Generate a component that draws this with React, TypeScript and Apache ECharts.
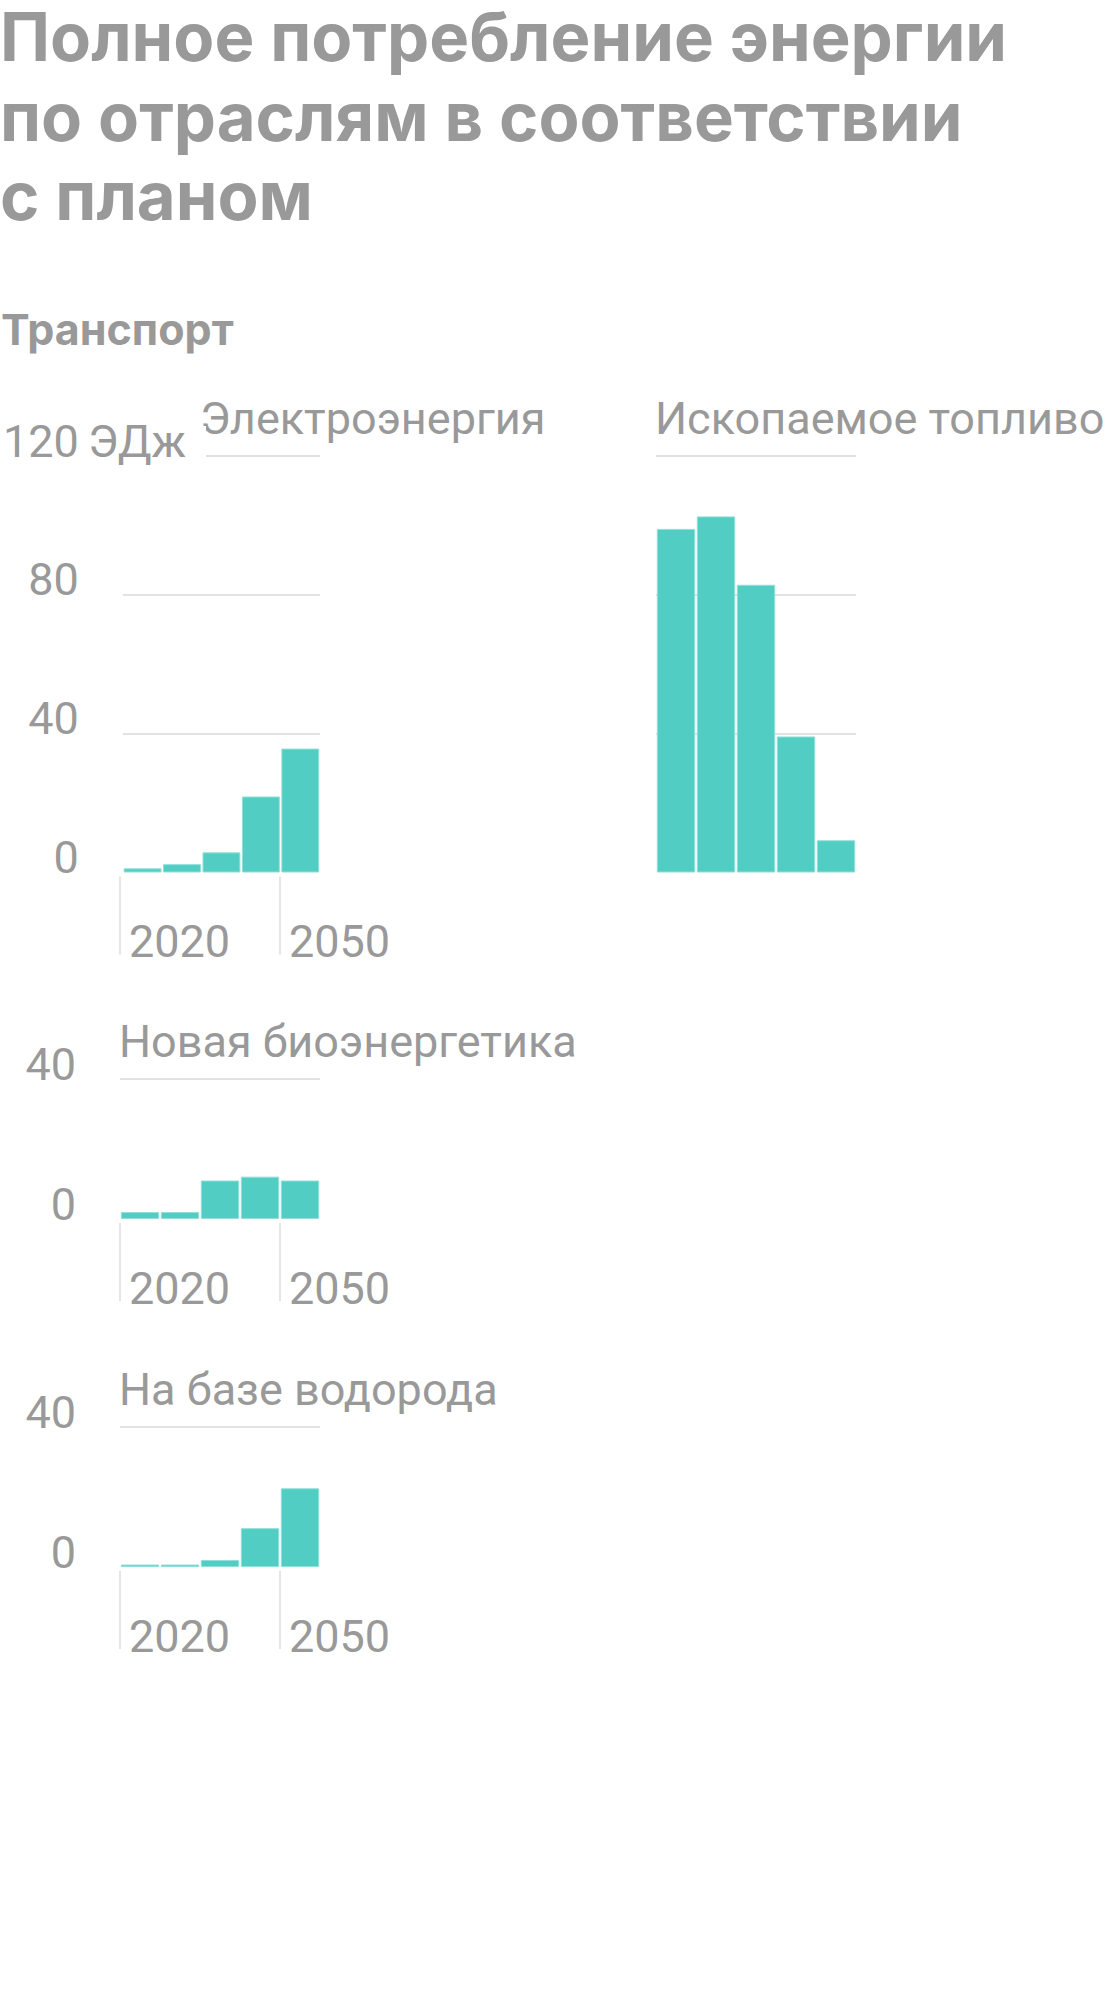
import React, { useEffect, useRef } from 'react';
import * as echarts from 'echarts';

// ---- data ----
const PERIODS = ['P1', 'P2', 'P3', 'P4', 'P5'];
const X_TICKS = [2020, 2050];
const ELECTRICITY = [1.2, 2.4, 5.8, 21.9, 35.7];
const FOSSIL = [99, 102.6, 82.9, 39.2, 9.3];
const BIOENERGY = [2, 2, 11, 12.1, 11];
const HYDROGEN = [0.7, 0.7, 2, 11.1, 22.5];
const Y_MAX_BIG = 120;
const Y_MAX_SMALL = 40;
const Y_STEP = 40;
const TITLE_LINES = ['Полное потребление энергии', 'по отраслям в соответствии', 'с планом'];
const SECTION = 'Транспорт';
const PANEL_NAMES = ['Электроэнергия', 'Ископаемое топливо', 'Новая биоэнергетика', 'На базе водорода'];
const UNIT = 'ЭДж';

const LABEL_FONT = 'Roboto, "Noto Sans", sans-serif';
const HEAD_FONT = 'Inter, Roboto, "Noto Sans", sans-serif';
const GREY = '#999999';
const GRID_LINE = '#e2e2e2';
const BAR = '#52cdc4';
const BAR_BORDER = '#8fe0d9';
const LABEL_SIZE = 45;

type Panel = {
  name: string;
  data: number[];
  left: number;
  top: number;
  height: number;
  max: number;
  yLabels: boolean;
  xTicks: boolean;
  titleLeft: number;
};

const PANELS: Panel[] = [
  { name: PANEL_NAMES[0], data: ELECTRICITY, left: 120, top: 456, height: 416.5, max: Y_MAX_BIG, yLabels: true, xTicks: true, titleLeft: 200 },
  { name: PANEL_NAMES[1], data: FOSSIL, left: 656, top: 456, height: 416.5, max: Y_MAX_BIG, yLabels: false, xTicks: false, titleLeft: 655 },
  { name: PANEL_NAMES[2], data: BIOENERGY, left: 120, top: 1079, height: 140, max: Y_MAX_SMALL, yLabels: true, xTicks: true, titleLeft: 119 },
  { name: PANEL_NAMES[3], data: HYDROGEN, left: 120, top: 1427, height: 140, max: Y_MAX_SMALL, yLabels: true, xTicks: true, titleLeft: 119 },
];

export default function App() {
  const ref = useRef<HTMLDivElement>(null);

  useEffect(() => {
    document.body.style.margin = '0';
    if (!ref.current) return;
    const chart = echarts.init(ref.current, undefined, { renderer: 'svg' });

    const grid: any[] = [];
    const xAxis: any[] = [];
    const yAxis: any[] = [];
    const series: any[] = [];
    const titles: any[] = [];

    TITLE_LINES.forEach((line, i) => {
      titles.push({
        text: line,
        left: 0,
        top: 3.4 + i * 79.5,
        padding: 0,
        textStyle: { fontSize: 67, fontWeight: 'bold', color: GREY, lineHeight: 67, fontFamily: HEAD_FONT },
      });
    });
    titles.push({
      text: SECTION,
      left: 1,
      top: 307,
      padding: 0,
      textStyle: { fontSize: 43, fontWeight: 'bold', color: GREY, lineHeight: 43, fontFamily: HEAD_FONT },
    });

    PANELS.forEach((p) => {
      const gi = grid.length;
      grid.push({ left: p.left, top: p.top, width: 200, height: p.height, containLabel: false });
      xAxis.push({ gridIndex: gi, type: 'category', data: PERIODS, show: false });
      yAxis.push({
        gridIndex: gi,
        type: 'value',
        min: 0,
        max: p.max,
        interval: Y_STEP,
        axisLine: { show: false },
        axisTick: { show: false },
        splitLine: { show: true, showMinLine: false, lineStyle: { color: GRID_LINE, width: 2 } },
        axisLabel: {
          show: p.yLabels,
          margin: 44,
          fontSize: LABEL_SIZE,
          color: GREY,
          fontFamily: LABEL_FONT,
          align: 'right',
          verticalAlign: 'bottom',
          lineHeight: 30,
        },
      });
      series.push({
        type: 'bar',
        name: p.name,
        xAxisIndex: gi,
        yAxisIndex: gi,
        data: p.data,
        barCategoryGap: '4%',
        itemStyle: { color: BAR, borderColor: BAR_BORDER, borderWidth: 1 },
      });
      titles.push({
        text: p.name,
        left: p.titleLeft,
        top: p.top - 60.3,
        padding: 0,
        textStyle: { fontSize: LABEL_SIZE, fontWeight: 'normal', color: GREY, lineHeight: LABEL_SIZE, fontFamily: LABEL_FONT },
      });

      if (p.xTicks) {
        const ti = grid.length;
        const zero = p.top + p.height;
        grid.push({ left: p.left, top: zero + 3, width: 160, height: 1 });
        xAxis.push({
          gridIndex: ti,
          type: 'value',
          min: X_TICKS[0],
          max: X_TICKS[1],
          interval: X_TICKS[1] - X_TICKS[0],
          axisLine: { show: false },
          splitLine: { show: false },
          axisTick: { show: true, length: 78, lineStyle: { color: '#dddddd', width: 1.5 } },
          axisLabel: {
            formatter: (v: number) => String(v),
            align: 'left',
            padding: [0, 0, 0, 9],
            margin: 80,
            verticalAlign: 'bottom',
            lineHeight: 30,
            fontSize: LABEL_SIZE,
            color: GREY,
            fontFamily: LABEL_FONT,
            showMinLabel: true,
            showMaxLabel: true,
          },
        });
        yAxis.push({ gridIndex: ti, type: 'value', show: false });
      }
    });

    const option: any = {
      animation: false,
      backgroundColor: '#ffffff',
      title: titles,
      grid,
      xAxis,
      yAxis,
      series,
      graphic: [
        {
          type: 'text',
          z: 50,
          x: 88,
          y: 460,
          style: {
            text: UNIT,
            fontSize: LABEL_SIZE,
            fontFamily: LABEL_FONT,
            fill: GREY,
            verticalAlign: 'bottom',
            lineHeight: 30,
            backgroundColor: '#ffffff',
            padding: [0, 20, 4, 0],
          },
        },
      ],
    };
    chart.setOption(option);
    return () => chart.dispose();
  }, []);

  return <div ref={ref} style={{ width: 1120, height: 2008 }} />;
}
